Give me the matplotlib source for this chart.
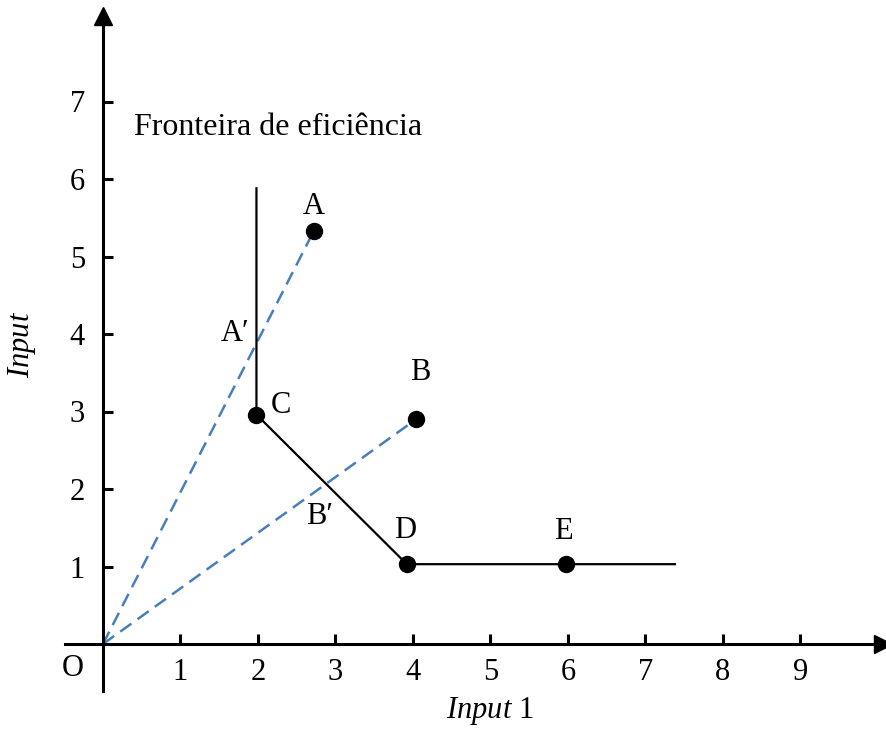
import matplotlib.pyplot as plt

plt.rcParams['font.family'] = ['Liberation Serif', 'DejaVu Serif']
plt.rcParams['mathtext.fontset'] = 'custom'
plt.rcParams['mathtext.rm'] = 'Liberation Serif'
plt.rcParams['mathtext.it'] = 'Liberation Serif:italic'

# DMUs
point_names = ['A', 'B', 'C', 'D', 'E']
point_x = [2.72, 4.04, 1.98, 3.92, 5.98]
point_y = [5.33, 2.90, 2.96, 1.03, 1.03]

# fronteira (C para cima, C -> D -> fim)
frontier_x = [1.98, 1.98, 3.92, 7.38]
frontier_y = [5.88, 2.96, 1.03, 1.03]

# rotulos (posicao do texto)
label_names = ['A', 'B', 'C', 'D', 'E', 'A\u2032', 'B\u2032']
label_x = [2.72, 4.09, 2.30, 3.90, 5.94, 1.70, 2.79]
label_y = [5.64, 3.50, 3.08, 1.46, 1.45, 4.01, 1.64]

x_ticks = [1, 2, 3, 4, 5, 6, 7, 8, 9]
y_ticks = [1, 2, 3, 4, 5, 6, 7]

fontsize = 22
lecolor = '#4a7ebb'

fig = plt.figure(figsize=(8.87, 7.29), dpi=100)
ax = fig.add_axes([0, 0, 1, 1])
ax.set_xlim(-103 / 77.5, (887 - 103) / 77.5)
ax.set_ylim(-(729 - 644) / 77.5, 644 / 77.5)

# eixos com setas
for side in ['top', 'right']:
    ax.spines[side].set_visible(False)
ax.spines['left'].set_position(('data', 0))
ax.spines['bottom'].set_position(('data', 0))
ax.spines['left'].set_bounds(-0.6, 8.0)
ax.spines['bottom'].set_bounds(-0.49, 10.0)
ax.spines['left'].set_linewidth(2.2)
ax.spines['bottom'].set_linewidth(2.2)
ax.plot(10.07, 0, marker='>', color='black', markersize=13, clip_on=False)
ax.plot(0, 8.1, marker='^', color='black', markersize=13, clip_on=False)

ax.set_xticks(x_ticks)
ax.set_yticks(y_ticks)
ax.tick_params(direction='in', length=7, width=2.2, labelsize=fontsize)
ax.tick_params(axis='x', pad=10)
ax.tick_params(axis='y', pad=13)

# linhas radiais a partir da origem
for px, py in zip(point_x[:2], point_y[:2]):
    ax.plot([0, px], [0, py], color=lecolor, linewidth=1.8, linestyle=(0, (5.5, 3)))

ax.plot(frontier_x, frontier_y, color='black', linewidth=1.6)
ax.plot(point_x, point_y, 'o', color='black', markersize=11.5, linestyle='none', zorder=3)

for name, lx, ly in zip(label_names, label_x, label_y):
    ax.text(lx, ly, name, fontsize=fontsize, ha='center', va='center')

ax.text(-0.39, -0.31, 'O', fontsize=fontsize, ha='center', va='center')
ax.text(0.40, 6.67, 'Fronteira de eficiência', fontsize=23, ha='left', va='center')
ax.text(4.99, -0.86, r'$\mathit{Input}$ 1', fontsize=fontsize, ha='center', va='center')
ax.text(-1.05, 3.86, r'$\mathit{Input}$', fontsize=fontsize, ha='center', va='center',
        rotation=90)

plt.savefig('out.png', dpi=100)
